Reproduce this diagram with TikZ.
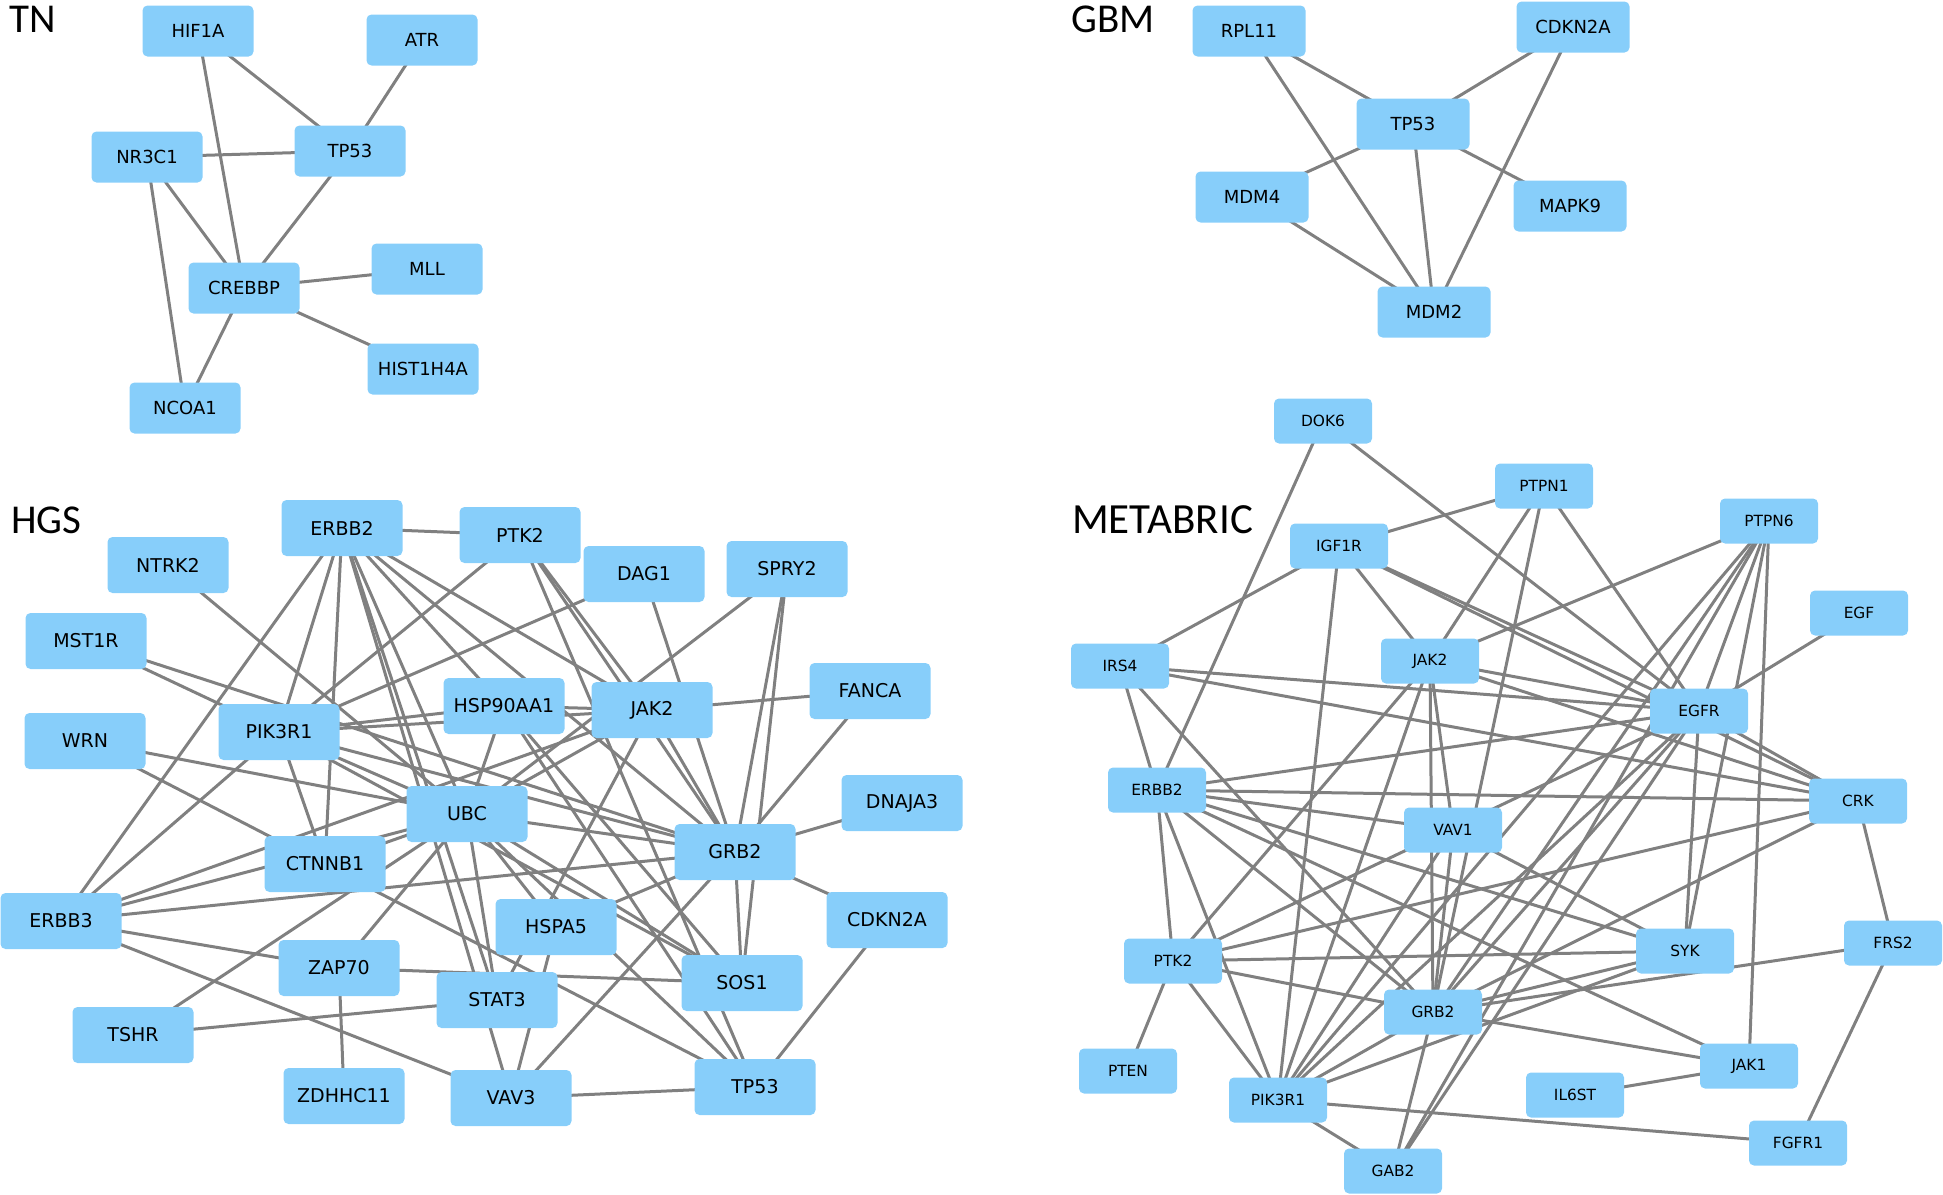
\documentclass[tikz,border=0pt]{standalone}
\usepackage{fontspec}
\setmainfont{DejaVu Sans}
\newfontfamily\labfont{Carlito}
\usetikzlibrary{backgrounds}
\definecolor{nodeblue}{RGB}{135,206,250}
\definecolor{edgegray}{RGB}{128,128,128}
\tikzset{
  gn/.style={rectangle, rounded corners=5pt, fill=nodeblue, draw=none, inner sep=0pt, text=black},
  tnn/.style={gn, minimum width=111pt, minimum height=51pt, font=\fontsize{18}{18}\selectfont},
  gbn/.style={gn, minimum width=113pt, minimum height=51pt, font=\fontsize{18}{18}\selectfont},
  hgn/.style={gn, minimum width=121pt, minimum height=56pt, font=\fontsize{19}{19}\selectfont},
  mbn/.style={gn, minimum width=98pt, minimum height=45pt, font=\fontsize{15.4}{16}\selectfont},
  ed/.style={draw=edgegray, line width=3pt},
  ttl/.style={anchor=base west, inner sep=0pt, text=black}
}
\newcommand{\eds}[2]{\foreach \b in {#2} {\draw[ed] (#1.center) -- (\b.center);}}
\begin{document}
\begin{tikzpicture}[x=1pt,y=-1pt]
\useasboundingbox (0,0) rectangle (1943,1194);
% titles
\node[ttl, font=\labfont\fontsize{41}{41}\selectfont] (tTN) at (9,32) {TN};
\node[ttl, font=\labfont\fontsize{41}{41}\selectfont] (tGBM) at (1071,32) {GBM};
\node[ttl, font=\labfont\fontsize{41}{41}\selectfont] (tHGS) at (11,533) {HGS};
\node[ttl, font=\labfont\fontsize{43}{43}\selectfont] (tMB) at (1072,533) {METABRIC};
% TN
\node[tnn] (tHIF1A) at (198,31) {HIF1A};
\node[tnn] (tATR) at (422,40) {ATR};
\node[tnn] (tTP53) at (350,151) {TP53};
\node[tnn] (tNR3C1) at (147,157) {NR3C1};
\node[tnn] (tCREBBP) at (244,288) {CREBBP};
\node[tnn] (tMLL) at (427,269) {MLL};
\node[tnn] (tHIST) at (423,369) {HIST1H4A};
\node[tnn] (tNCOA1) at (185,408) {NCOA1};
% GBM
\node[gbn] (gRPL11) at (1249,31) {RPL11};
\node[gbn] (gCDKN2A) at (1573,27) {CDKN2A};
\node[gbn] (gTP53) at (1413,124) {TP53};
\node[gbn] (gMDM4) at (1252,197) {MDM4};
\node[gbn] (gMAPK9) at (1570,206) {MAPK9};
\node[gbn] (gMDM2) at (1434,312) {MDM2};
% HGS
\node[hgn] (hERBB2) at (342,528) {ERBB2};
\node[hgn] (hNTRK2) at (168,565) {NTRK2};
\node[hgn] (hMST1R) at (86,641) {MST1R};
\node[hgn] (hWRN) at (85,741) {WRN};
\node[hgn] (hPIK3R1) at (279,732) {PIK3R1};
\node[hgn] (hHSP) at (504,706) {HSP90AA1};
\node[hgn] (hUBC) at (467,814) {UBC};
\node[hgn] (hPTK2) at (520,535) {PTK2};
\node[hgn] (hDAG1) at (644,574) {DAG1};
\node[hgn] (hSPRY2) at (787,569) {SPRY2};
\node[hgn] (hJAK2) at (652,710) {JAK2};
\node[hgn] (hFANCA) at (870,691) {FANCA};
\node[hgn] (hDNAJA3) at (902,803) {DNAJA3};
\node[hgn] (hGRB2) at (735,852) {GRB2};
\node[hgn] (hCTNNB1) at (325,864) {CTNNB1};
\node[hgn] (hERBB3) at (61,921) {ERBB3};
\node[hgn] (hZAP70) at (339,968) {ZAP70};
\node[hgn] (hTSHR) at (133,1035) {TSHR};
\node[hgn] (hZDHHC11) at (344,1096) {ZDHHC11};
\node[hgn] (hSTAT3) at (497,1000) {STAT3};
\node[hgn] (hVAV3) at (511,1098) {VAV3};
\node[hgn] (hHSPA5) at (556,927) {HSPA5};
\node[hgn] (hSOS1) at (742,983) {SOS1};
\node[hgn] (hCDKN2A) at (887,920) {CDKN2A};
\node[hgn] (hTP53) at (755,1087) {TP53};
% METABRIC
\node[mbn] (mDOK6) at (1323,421) {DOK6};
\node[mbn] (mIGF1R) at (1339,546) {IGF1R};
\node[mbn] (mIRS4) at (1120,666) {IRS4};
\node[mbn] (mJAK2) at (1430,661) {JAK2};
\node[mbn] (mERBB2) at (1157,790) {ERBB2};
\node[mbn] (mPTPN1) at (1544,486) {PTPN1};
\node[mbn] (mPTPN6) at (1769,521) {PTPN6};
\node[mbn] (mEGF) at (1859,613) {EGF};
\node[mbn] (mEGFR) at (1699,711) {EGFR};
\node[mbn] (mCRK) at (1858,801) {CRK};
\node[mbn] (mVAV1) at (1453,830) {VAV1};
\node[mbn] (mPTK2) at (1173,961) {PTK2};
\node[mbn] (mGRB2) at (1433,1012) {GRB2};
\node[mbn] (mPTEN) at (1128,1071) {PTEN};
\node[mbn] (mPIK3R1) at (1278,1100) {PIK3R1};
\node[mbn] (mGAB2) at (1393,1171) {GAB2};
\node[mbn] (mSYK) at (1685,951) {SYK};
\node[mbn] (mFRS2) at (1893,943) {FRS2};
\node[mbn] (mJAK1) at (1749,1066) {JAK1};
\node[mbn] (mIL6ST) at (1575,1095) {IL6ST};
\node[mbn] (mFGFR1) at (1798,1143) {FGFR1};
\begin{pgfonlayer}{background}
% TN edges
\eds{tHIF1A}{tTP53,tCREBBP}
\eds{tATR}{tTP53}
\eds{tNR3C1}{tTP53,tCREBBP,tNCOA1}
\eds{tTP53}{tCREBBP}
\eds{tCREBBP}{tMLL,tHIST,tNCOA1}
% GBM edges
\eds{gRPL11}{gTP53,gMDM2}
\eds{gCDKN2A}{gTP53,gMDM2}
\eds{gTP53}{gMDM4,gMDM2,gMAPK9}
\eds{gMDM4}{gMDM2}
% HGS edges
\eds{hERBB2}{hPTK2,hERBB3,hPIK3R1,hCTNNB1,hUBC,hSTAT3,hVAV3,hHSP,hJAK2,hGRB2}
\eds{hNTRK2}{hUBC}
\eds{hMST1R}{hPIK3R1,hGRB2}
\eds{hWRN}{hUBC,hTP53}
\eds{hPIK3R1}{hERBB3,hPTK2,hDAG1,hHSP,hJAK2,hCTNNB1,hUBC,hGRB2,hSOS1}
\eds{hPTK2}{hJAK2,hGRB2,hTP53}
\eds{hDAG1}{hGRB2}
\eds{hSPRY2}{hUBC,hGRB2,hSOS1}
\eds{hHSP}{hJAK2,hUBC,hTP53,hSOS1}
\eds{hJAK2}{hFANCA,hGRB2,hSTAT3,hERBB3,hUBC}
\eds{hFANCA}{hGRB2}
\eds{hDNAJA3}{hGRB2}
\eds{hCDKN2A}{hGRB2,hTP53}
\eds{hUBC}{hCTNNB1,hERBB3,hTSHR,hZAP70,hSTAT3,hSOS1,hGRB2,hHSPA5,hTP53}
\eds{hERBB3}{hGRB2,hZAP70,hVAV3}
\eds{hTSHR}{hSTAT3}
\eds{hZAP70}{hZDHHC11,hSOS1}
\eds{hHSPA5}{hVAV3,hGRB2}
\eds{hGRB2}{hSOS1,hVAV3}
\eds{hTP53}{hVAV3}
% METABRIC edges
\eds{mDOK6}{mERBB2,mEGFR}
\eds{mIGF1R}{mPTPN1,mIRS4,mPIK3R1,mJAK2,mEGFR,mCRK}
\eds{mPTPN1}{mJAK2,mGRB2,mEGFR}
\eds{mPTPN6}{mJAK2,mEGFR,mSYK,mJAK1,mGRB2,mPIK3R1,mGAB2}
\eds{mEGF}{mEGFR}
\eds{mEGFR}{mJAK2,mIRS4,mERBB2,mCRK,mSYK,mPTK2,mGRB2,mPIK3R1,mGAB2}
\eds{mCRK}{mIRS4,mERBB2,mPTK2,mGRB2,mFRS2,mJAK2}
\eds{mIRS4}{mERBB2,mGRB2}
\eds{mJAK2}{mPTK2,mPIK3R1,mGRB2,mVAV1}
\eds{mERBB2}{mVAV1,mSYK,mJAK1,mGRB2,mPTK2,mPIK3R1}
\eds{mVAV1}{mGRB2,mSYK,mPIK3R1}
\eds{mPTK2}{mPTEN,mPIK3R1,mSYK,mGRB2}
\eds{mPIK3R1}{mGRB2,mGAB2,mFGFR1,mSYK}
\eds{mGRB2}{mSYK,mFRS2,mJAK1,mGAB2}
\eds{mJAK1}{mIL6ST}
\eds{mFRS2}{mFGFR1}
\end{pgfonlayer}
\end{tikzpicture}
\end{document}
